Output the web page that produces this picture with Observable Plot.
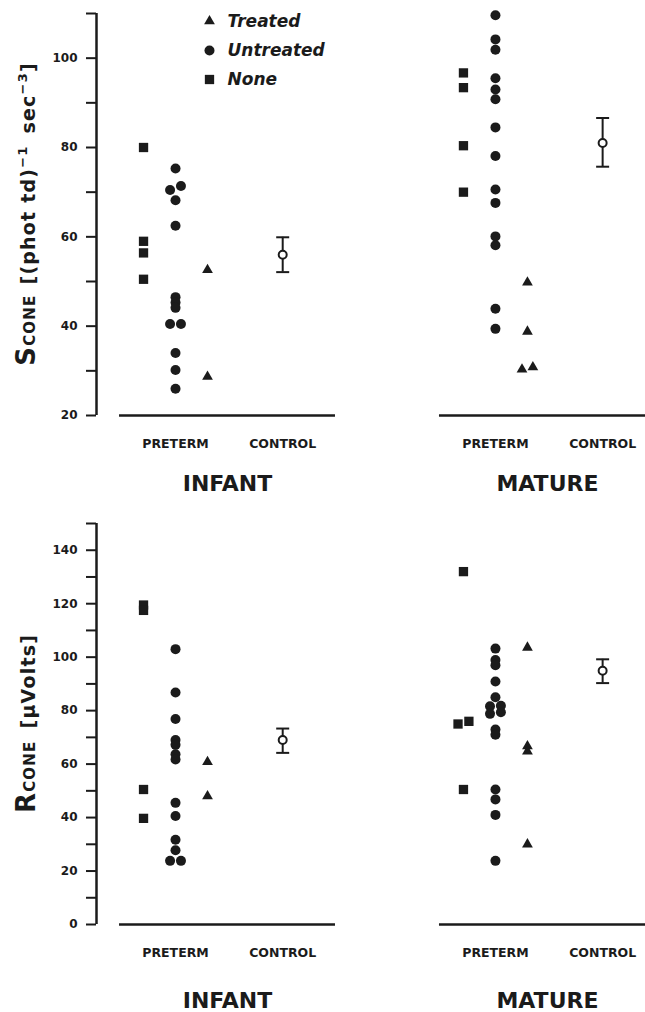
<!DOCTYPE html>
<html>
<head>
<meta charset="utf-8">
<script src="https://cdn.jsdelivr.net/npm/d3@7"></script>
<script src="https://cdn.jsdelivr.net/npm/@observablehq/plot@0.6"></script>
<style>
  html, body { margin: 0; padding: 0; background: #fff; }
  #chart { width: 645px; overflow: hidden; }
  #chart svg { display: block; }
</style>
</head>
<body>
<div id="chart"></div>
<script>
// ---------------- data ----------------
const ages = ["INFANT", "MATURE"];
const groups = ["None", "Untreated", "Treated"];
const legendGroups = ["Treated", "Untreated", "None"];
const xCategories = ["PRETERM", "CONTROL"];

// S_cone  [(phot td)^-1 sec^-3]
const sTicks = [20, 30, 40, 50, 60, 70, 80, 90, 100, 110];
const sInfantNone = [80.0, 59.0, 56.4, 50.5];
const sInfantUntreated = [75.3, 71.4, 70.5, 68.2, 62.5, 46.5, 45.3, 44.1, 40.5, 40.5, 34.0, 30.2, 26.0];
const sInfantTreated = [52.6, 28.7];
const sMatureNone = [96.7, 93.4, 80.4, 70.0];
const sMatureUntreated = [109.6, 104.2, 101.9, 95.5, 93.0, 90.8, 84.5, 78.1, 70.6, 67.6, 60.1, 58.1, 43.9, 39.4];
const sMatureTreated = [49.8, 38.8, 30.8, 30.3];
const sControlMean = [56.0, 81.0];
const sControlLow = [52.1, 75.7];
const sControlHigh = [59.9, 86.6];

// R_cone  [µVolts]
const rTicks = [0, 10, 20, 30, 40, 50, 60, 70, 80, 90, 100, 110, 120, 130, 140, 150];
const rInfantNone = [119.5, 117.5, 50.5, 39.7];
const rInfantUntreated = [103.0, 86.8, 76.9, 69.0, 67.2, 63.7, 61.7, 45.5, 40.6, 31.7, 27.8, 23.8, 23.8];
const rInfantTreated = [60.8, 48.0];
const rMatureNone = [132.0, 76.0, 75.0, 50.5];
const rMatureUntreated = [103.2, 98.9, 97.0, 90.9, 85.0, 81.8, 81.6, 79.4, 78.8, 72.9, 71.0, 50.5, 46.8, 41.0, 23.8];
const rMatureTreated = [103.6, 66.7, 64.8, 30.0];
const rControlMean = [69.0, 94.9];
const rControlLow = [64.2, 90.3];
const rControlHigh = [73.3, 99.2];

// ---------------- layout ----------------
const ink = "#1b1b1b";
const W = 645;
const slot = {None: 0, Untreated: 1, Treated: 2, PRETERM: 1, CONTROL: 4.35};
const ageShift = {INFANT: 0, MATURE: 10};
const xDomain = [-1.47, 15.69];
const span = [-0.75, 6.0];
const dodgeStep = 0.34;
const symbolOf = {None: "square", Untreated: "circle", Treated: "triangle"};
const radiusOf = {None: 5.25, Untreated: 5, Treated: 4};

const capSymbol = {
  draw(context, size) {
    const r = Math.sqrt(size / Math.PI);
    context.moveTo(-r, 0);
    context.lineTo(r, 0);
  }
};

// symmetric dodge for near-coincident values (threshold in value units)
function dodge(values, threshold) {
  const idx = values.map((v, i) => i).sort((a, b) => values[a] - values[b]);
  const off = new Array(values.length).fill(0);
  let cluster = [idx[0]];
  const flush = () => {
    const n = cluster.length;
    cluster.forEach((j, k) => off[j] = k - (n - 1) / 2);
  };
  for (let i = 1; i < idx.length; i++) {
    if (values[idx[i]] - values[idx[i - 1]] < threshold) cluster.push(idx[i]);
    else { flush(); cluster = [idx[i]]; }
  }
  flush();
  return off;
}

function panel(cfg) {
  const {height, marginTop, marginBottom, yDomain, yTicks, series, control, legend, title, ageDy} = cfg;
  const pxPerUnit = (height - marginTop - marginBottom) / (yDomain[1] - yDomain[0]);
  const thr = 4.3 / pxPerUnit;
  const points = [];
  for (const s of series) {
    const off = dodge(s.values, thr);
    s.values.forEach((v, i) => points.push({
      age: s.age, group: s.group, value: v,
      x: slot[s.group] + ageShift[s.age] + off[i] * dodgeStep
    }));
  }
  const controls = ages.map((a, i) => ({age: a, mean: control.mean[i], lo: control.low[i], hi: control.high[i], x: ageShift[a] + slot.CONTROL}));
  const xLabels = ages.flatMap(a => xCategories.map(c => ({age: a, cat: c, x: ageShift[a] + slot[c]})));
  const ageLabels = ages.map(a => ({age: a, x: ageShift[a] + (span[0] + span[1]) / 2}));

  const marks = [
    Plot.ruleX([xDomain[0]], {x: d => d, y1: yDomain[0], y2: yDomain[1], stroke: ink, strokeWidth: 2.5}),
    Plot.axisY({
      ticks: yTicks, tickSize: 10, tickPadding: 9, strokeWidth: 2, stroke: ink,
      tickFormat: d => (d % 20 === 0 ? String(d) : ""),
      fontSize: 12, fontWeight: "bold", fill: ink, label: null
    }),
    Plot.ruleY(ages, {
      y: () => yDomain[0],
      x1: a => ageShift[a] + span[0],
      x2: a => Math.min(ageShift[a] + span[1], xDomain[1]),
      stroke: ink, strokeWidth: 2.5
    }),
    ...groups.map(g => Plot.dot(points.filter(p => p.group === g), {
      x: "x", y: "value", symbol: symbolOf[g], r: radiusOf[g], fill: ink, stroke: "none"
    })),
    Plot.ruleX(controls, {x: "x", y1: "lo", y2: "hi", stroke: ink, strokeWidth: 2}),
    Plot.dot(controls, {x: "x", y: "lo", symbol: capSymbol, r: 6.5, fill: "none", stroke: ink, strokeWidth: 2}),
    Plot.dot(controls, {x: "x", y: "hi", symbol: capSymbol, r: 6.5, fill: "none", stroke: ink, strokeWidth: 2}),
    Plot.dot(controls, {x: "x", y: "mean", r: 4, fill: "white", stroke: ink, strokeWidth: 2}),
    Plot.text(xLabels, {x: "x", text: "cat", frameAnchor: "bottom", dy: 28, lineAnchor: "middle", fontSize: 12.5, fontWeight: "bold", fill: ink}),
    Plot.text(ageLabels, {x: "x", text: "age", frameAnchor: "bottom", dy: ageDy, lineAnchor: "middle", fontSize: 22, fontWeight: "bold", fill: ink})
  ];

  if (legend) {
    const legendY = [7.7, 37, 66];
    legendGroups.forEach((g, i) => {
      marks.push(Plot.dot([g], {frameAnchor: "top-left", dx: 113, dy: legendY[i], symbol: symbolOf[g], r: radiusOf[g], fill: ink, stroke: "none"}));
      marks.push(Plot.text([g], {frameAnchor: "top-left", dx: 131, dy: legendY[i], text: d => d, textAnchor: "start", lineAnchor: "middle", fontSize: 17, fontWeight: "bold", fontStyle: "italic", fill: ink}));
    });
  }

  const svg = Plot.plot({
    width: W, height, marginLeft: 96, marginRight: 0, marginTop, marginBottom,
    style: {fontFamily: "'DejaVu Sans', sans-serif", color: ink, background: "white", fontSize: "12px"},
    x: {domain: xDomain, axis: null},
    y: {domain: yDomain},
    marks
  });

  // y-axis title with small caps subscript and superscripts
  const cy = (marginTop + (height - marginBottom)) / 2;
  const t = d3.select(svg).append("text")
    .attr("transform", `translate(35,${cy}) rotate(-90)`)
    .attr("text-anchor", "middle")
    .attr("font-family", "'DejaVu Sans', sans-serif")
    .attr("font-weight", "bold")
    .attr("letter-spacing", 1.2)
    .attr("fill", ink);
  title.forEach(p => {
    const ts = t.append("tspan").attr("font-size", p.size).text(p.text);
    if (p.dy) ts.attr("dy", p.dy);
    if (p.dx) ts.attr("dx", p.dx);
  });
  return svg;
}

const chart = document.getElementById("chart");

chart.appendChild(panel({
  height: 505, marginTop: 13, marginBottom: 90,
  yDomain: [20, 110], yTicks: sTicks, legend: true, ageDy: 68,
  series: [
    {age: "INFANT", group: "None", values: sInfantNone},
    {age: "INFANT", group: "Untreated", values: sInfantUntreated},
    {age: "INFANT", group: "Treated", values: sInfantTreated},
    {age: "MATURE", group: "None", values: sMatureNone},
    {age: "MATURE", group: "Untreated", values: sMatureUntreated},
    {age: "MATURE", group: "Treated", values: sMatureTreated}
  ],
  control: {mean: sControlMean, low: sControlLow, high: sControlHigh},
  title: [
    {text: "S", size: 26},
    {text: "CONE", size: 15},
    {text: "[(phot td)", size: 19, dx: 10},
    {text: "\u22121", size: 13, dy: -8},
    {text: "sec", size: 19, dy: 8, dx: 12},
    {text: "\u22123", size: 13, dy: -8},
    {text: "]", size: 19, dy: 8}
  ]
}));

chart.appendChild(panel({
  height: 507, marginTop: 18, marginBottom: 88,
  yDomain: [0, 150], yTicks: rTicks, legend: false, ageDy: 76,
  series: [
    {age: "INFANT", group: "None", values: rInfantNone},
    {age: "INFANT", group: "Untreated", values: rInfantUntreated},
    {age: "INFANT", group: "Treated", values: rInfantTreated},
    {age: "MATURE", group: "None", values: rMatureNone},
    {age: "MATURE", group: "Untreated", values: rMatureUntreated},
    {age: "MATURE", group: "Treated", values: rMatureTreated}
  ],
  control: {mean: rControlMean, low: rControlLow, high: rControlHigh},
  title: [
    {text: "R", size: 26},
    {text: "CONE", size: 15},
    {text: "[\u00B5Volts]", size: 19, dx: 12}
  ]
}));
</script>
</body>
</html>
